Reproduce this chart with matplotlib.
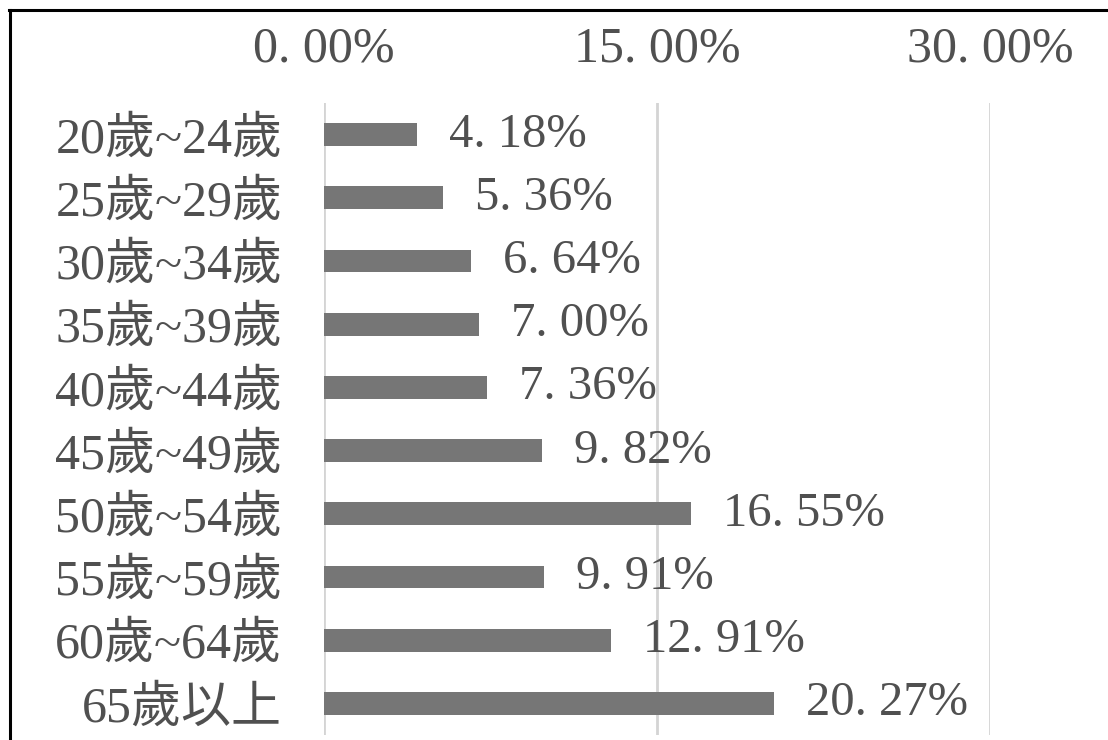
import matplotlib
matplotlib.use("Agg")
import matplotlib.pyplot as plt
from matplotlib.lines import Line2D

# age groups, top to bottom
age_groups = ["20歲~24歲", "25歲~29歲", "30歲~34歲", "35歲~39歲", "40歲~44歲",
              "45歲~49歲", "50歲~54歲", "55歲~59歲", "60歲~64歲", "65歲以上"]
shares = [4.18, 5.36, 6.64, 7.00, 7.36, 9.82, 16.55, 9.91, 12.91, 20.27]
x_ticks = [0, 15, 30]

fonts = ["Liberation Serif", "Noto Sans CJK TC"]
plt.rcParams["font.family"] = fonts
txt_color = "#505050"

fig = plt.figure(figsize=(11.08, 7.40), dpi=100)
ax = fig.add_axes([324 / 1108, 5 / 740, 666 / 1108, 632 / 740])

pos = list(range(len(age_groups)))
ax.barh(pos, shares, height=0.36, color="#767676", zorder=3)
ax.set_ylim(len(age_groups) - 0.5, -0.5)
ax.set_xlim(0, 30)

ax.set_yticks(pos)
ax.set_yticklabels(age_groups, fontsize=36, color=txt_color)
ax.set_xticks(x_ticks)
ax.set_xticklabels([f"{t:.2f}%".replace(".", ". ") for t in x_ticks],
                   fontsize=36, color=txt_color)
ax.xaxis.tick_top()
ax.tick_params(axis="both", length=0)
ax.tick_params(axis="x", pad=22)
ax.tick_params(axis="y", pad=30)

ax.grid(axis="x", color="#d4d4d4", linewidth=2, zorder=0)
for s in ax.spines.values():
    s.set_visible(False)

for p, v in zip(pos, shares):
    ax.annotate(f"{v:.2f}%".replace(".", ". "), (v, p), xytext=(23, 0),
                textcoords="offset points", va="center", ha="left",
                fontsize=35, color=txt_color)

# outer frame (top and left edges visible)
fig.add_artist(Line2D([9 / 1108, 1.0], [1 - 10 / 740, 1 - 10 / 740],
                      transform=fig.transFigure, color="black", linewidth=2.2))
fig.add_artist(Line2D([10 / 1108, 10 / 1108], [0, 1 - 10 / 740],
                      transform=fig.transFigure, color="black", linewidth=2.2))

fig.savefig("out.png", dpi=100)
